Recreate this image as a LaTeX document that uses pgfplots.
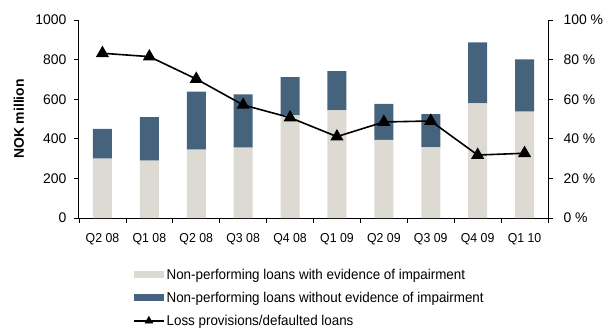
\documentclass[border=0pt]{standalone}
\usepackage{fontspec}
\setmainfont{Liberation Sans}
\newfontfamily\narrowsans{Liberation Sans}[FakeStretch=0.95]
\newfontfamily\legendsans{Liberation Sans}[FakeStretch=0.94]
\usepackage{pgfplots}
\pgfplotsset{compat=1.18}
\definecolor{npwith}{HTML}{DDDAD3}
\definecolor{npwithout}{HTML}{46637D}

\begin{document}
\begin{tikzpicture}
\useasboundingbox (-79bp,-110bp) rectangle (528bp,218bp);
\pgfplotsset{
  base/.style={
    scale only axis, width=469bp, height=198bp,
    at={(0,0)}, anchor=south west,
    xmin=-0.5, xmax=9.5,
    /pgf/number format/assume math mode=true,
    /pgf/number format/1000 sep={},
    tick label style={font=\fontsize{14}{16}\selectfont},
    axis line style={line width=1bp},
    tick style={line width=0.8bp, black},
    tick align=outside,
    major tick length=5bp, minor tick length=5bp,
  }
}
\begin{axis}[base,
  ybar stacked, bar width=19bp,
  ymin=0, ymax=1000, ytick={0,200,...,1000},
  axis x line*=bottom, axis y line*=left,
  xtick={0,...,9},
  xticklabels={Q2 08,Q1 08,Q2 08,Q3 08,Q4 08,Q1 09,Q2 09,Q3 09,Q4 09,Q1 10},
  major x tick style={draw=none},
  minor xtick={-0.5,0.5,...,9.5},
  xticklabel style={font=\narrowsans\fontsize{13}{15}\selectfont, yshift=-7bp},
  yticklabel style={xshift=-4bp},
  ylabel={NOK million},
  ylabel style={font=\bfseries\fontsize{14}{16}\selectfont,
    at={(axis description cs:-0.128,0.5)}, anchor=center},
  legend style={at={(axis description cs:0.115,-0.245)}, anchor=north west,
    draw=none, fill=none, font=\legendsans\fontsize{14.3}{16}\selectfont,
    row sep=7.3bp, inner sep=0pt},
  legend cell align=left,
]
\addplot[fill=npwith, draw=none,
  legend image code/.code={\fill[npwith] (0bp,-3.5bp) rectangle (30bp,3.5bp);}]
  coordinates {(0,300) (1,290) (2,345) (3,355) (4,518) (5,544) (6,394) (7,357) (8,579) (9,537)};
\addlegendentry{Non-performing loans with evidence of impairment}
\addplot[fill=npwithout, draw=none,
  legend image code/.code={\fill[npwithout] (0bp,-3.5bp) rectangle (30bp,3.5bp);}]
  coordinates {(0,150) (1,220) (2,293) (3,270) (4,194) (5,198) (6,182) (7,168) (8,308) (9,264)};
\addlegendentry{Non-performing loans without evidence of impairment}
\addlegendimage{black,
  legend image code/.code={\draw[black, line width=1.5bp] (0bp,0bp) -- (30bp,0bp);
    \fill[black] (15bp,0bp) ++(90:4.5bp) -- ++(-120:7.8bp) -- ++(0:7.8bp) -- cycle;}}
\addlegendentry{Loss provisions/defaulted loans}
\end{axis}
\begin{axis}[base,
  ymin=0, ymax=100, ytick={0,20,...,100},
  axis y line*=right, axis x line=none,
  yticklabel={\pgfmathprintnumber{\tick} \%},
  yticklabel style={xshift=7bp},
]
\addplot[black, line width=1.6bp, mark=triangle*, mark size=6bp]
  coordinates {(0,83.2) (1,81.5) (2,70.2) (3,57.1) (4,50.7) (5,41.1) (6,48.5) (7,49.0) (8,31.8) (9,32.7)};
\end{axis}
\end{tikzpicture}
\end{document}
